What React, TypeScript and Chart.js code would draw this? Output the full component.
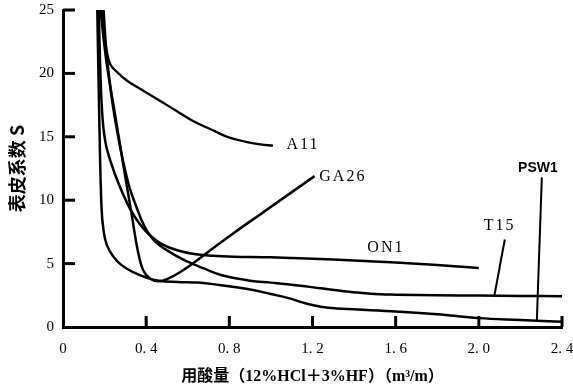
import React, { useEffect, useRef } from 'react';
import { Chart, registerables } from 'chart.js';

Chart.register(...registerables);

// Axis ticks
const xTicks = [0, 0.4, 0.8, 1.2, 1.6, 2.0, 2.4];
const xTickLabels = ['0', '0. 4', '0. 8', '1. 2', '1. 6', '2. 0', '2. 4'];
const yTicks = [0, 5, 10, 15, 20, 25];
const yTickLabels = ['0', '5', '10', '15', '20', '25'];

const xTitle = '用酸量（12%HCl＋3%HF）（m³/m）';
const yTitle = '表皮系数 S';

// Series (x: acid volume m3/m, y: skin factor S)
const a11X = [0.185, 0.195, 0.21, 0.228, 0.26, 0.31, 0.39, 0.47, 0.55, 0.63, 0.71, 0.79, 0.88, 0.95, 1.01];
const a11Y = [25, 23.5, 21.8, 20.7, 20.1, 19.4, 18.6, 17.8, 17.0, 16.2, 15.6, 15.0, 14.6, 14.4, 14.3];

const ga26X = [0.18, 0.21, 0.25, 0.29, 0.33, 0.36, 0.385, 0.42, 0.46, 0.51, 0.57, 0.64, 0.72, 0.82, 0.95, 1.08, 1.21];
const ga26Y = [25, 20.8, 16.8, 12.8, 8.9, 6.0, 4.5, 3.8, 3.6, 3.85, 4.4, 5.2, 6.2, 7.4, 8.9, 10.4, 11.9];

const on1X = [0.172, 0.18, 0.19, 0.205, 0.23, 0.27, 0.32, 0.37, 0.42, 0.48, 0.55, 0.63, 0.72, 0.82, 1.0, 1.2, 1.4, 1.6, 1.8, 2.0];
const on1Y = [25, 20, 16.5, 14.5, 13.0, 11.2, 9.4, 8.1, 7.2, 6.5, 6.05, 5.75, 5.62, 5.55, 5.5, 5.38, 5.25, 5.08, 4.88, 4.65];

const t15X = [0.195, 0.21, 0.235, 0.26, 0.29, 0.32, 0.35, 0.39, 0.44, 0.52, 0.6, 0.68, 0.76, 0.9, 1.0, 1.12, 1.24, 1.36, 1.48, 1.6, 1.8, 2.0, 2.2, 2.41];
const t15Y = [25, 21.5, 18.0, 15.5, 13.0, 11.0, 9.6, 8.0, 6.8, 5.85, 5.15, 4.6, 4.1, 3.65, 3.5, 3.3, 3.05, 2.8, 2.62, 2.55, 2.5, 2.48, 2.45, 2.43];

const psw1X = [0.165, 0.175, 0.185, 0.195, 0.21, 0.24, 0.28, 0.34, 0.4, 0.46, 0.55, 0.65, 0.76, 0.85, 0.92, 1.0, 1.08, 1.16, 1.24, 1.32, 1.4, 1.58, 1.8, 2.0, 2.2, 2.41];
const psw1Y = [25, 16, 9.5, 7.6, 6.5, 5.6, 4.9, 4.3, 3.9, 3.65, 3.55, 3.5, 3.3, 3.1, 2.9, 2.6, 2.3, 1.9, 1.6, 1.45, 1.4, 1.25, 1.0, 0.7, 0.55, 0.4];

// Leader lines for labels
const t15LeaderX = [2.125, 2.075];
const t15LeaderY = [6.9, 2.5];
const psw1LeaderX = [2.303, 2.279];
const psw1LeaderY = [11.8, 0.5];

// Curve labels (data positions)
const labelTexts = ['A11', 'GA26', 'ON1', 'T15', 'PSW1'];
const labelXs = [1.154, 1.346, 1.553, 2.1, 2.284];
const labelYs = [14.35, 11.83, 6.23, 7.97, 12.54];

const toPts = (xs: number[], ys: number[]) => xs.map((x, i) => ({ x, y: ys[i] }));

const inwardTicks = {
  id: 'inwardTicks',
  afterDatasetsDraw(chart: any) {
    const { ctx, chartArea, scales } = chart;
    const xs = scales.x;
    const ys = scales.y;
    ctx.save();
    ctx.strokeStyle = '#000';
    ctx.lineWidth = 3;
    xTicks.forEach((v) => {
      if (v === 0) return;
      const px = xs.getPixelForValue(v);
      ctx.beginPath();
      ctx.moveTo(px, chartArea.bottom);
      ctx.lineTo(px, chartArea.bottom - 11);
      ctx.stroke();
    });
    yTicks.forEach((v) => {
      if (v === 0) return;
      const py = ys.getPixelForValue(v);
      ctx.beginPath();
      ctx.moveTo(chartArea.left, py);
      ctx.lineTo(chartArea.left + 12, py);
      ctx.stroke();
    });
    ctx.restore();
  },
};

const curveLabels = {
  id: 'curveLabels',
  afterDatasetsDraw(chart: any) {
    const { ctx, scales } = chart;
    ctx.save();
    ctx.fillStyle = '#000';
    ctx.textAlign = 'left';
    ctx.textBaseline = 'middle';
    labelTexts.forEach((t, i) => {
      const px = scales.x.getPixelForValue(labelXs[i]);
      const py = scales.y.getPixelForValue(labelYs[i]);
      if (t === 'PSW1') {
        ctx.font = "bold 14px 'Liberation Sans', Arial, sans-serif";
        (ctx as any).letterSpacing = '0px';
      } else {
        ctx.font = "16px 'Liberation Serif', 'Times New Roman', serif";
        (ctx as any).letterSpacing = '2px';
      }
      const w = ctx.measureText(t).width;
      ctx.fillText(t, px - w / 2, py);
    });
    ctx.restore();
  },
};

export default function App() {
  const ref = useRef<HTMLCanvasElement | null>(null);

  useEffect(() => {
    if (!ref.current) return;
    const lineDs = (xs: number[], ys: number[], w = 2.5, tension = 0.4) => ({
      data: toPts(xs, ys),
      showLine: true,
      borderColor: '#000',
      backgroundColor: '#000',
      borderWidth: w,
      pointRadius: 0,
      tension,
      fill: false,
    });
    const chart = new Chart(ref.current, {
      type: 'scatter',
      data: {
        datasets: [
          lineDs(a11X, a11Y, 2.3),
          lineDs(ga26X, ga26Y),
          lineDs(on1X, on1Y),
          lineDs(t15X, t15Y),
          lineDs(psw1X, psw1Y),
          lineDs(t15LeaderX, t15LeaderY, 2, 0),
          lineDs(psw1LeaderX, psw1LeaderY, 2, 0),
        ] as any,
      },
      options: {
        responsive: false,
        maintainAspectRatio: false,
        animation: false,
        layout: { padding: { left: 0, right: 0, top: 0, bottom: 0 } },
        plugins: { legend: { display: false }, tooltip: { enabled: false } },
        scales: {
          x: {
            type: 'linear',
            min: 0,
            max: 2.4,
            afterBuildTicks: (s: any) => {
              s.ticks = xTicks.map((v) => ({ value: v }));
            },
            afterFit: (s: any) => {
              s.height = 60;
              s.paddingRight = 11;
              s.paddingLeft = 0;
            },
            grid: { display: false, drawTicks: false },
            border: { display: true, width: 3, color: '#000' },
            ticks: {
              autoSkip: false,
              maxRotation: 0,
              padding: 13,
              color: '#000',
              font: { family: "'Liberation Serif', serif", size: 15 },
              callback: (v: any) => xTickLabels[xTicks.indexOf(Number(v))],
            },
            title: {
              display: true,
              text: xTitle,
              color: '#000',
              font: { family: "'Liberation Serif', 'Noto Sans CJK SC', serif", size: 16, weight: 'bold' },
              padding: { top: 0, bottom: 1 },
            },
          },
          y: {
            type: 'linear',
            min: 0,
            max: 25,
            afterBuildTicks: (s: any) => {
              s.ticks = yTicks.map((v) => ({ value: v }));
            },
            afterFit: (s: any) => {
              s.width = 63;
              s.paddingTop = 10;
              s.paddingBottom = 0;
            },
            grid: { display: false, drawTicks: false },
            border: { display: true, width: 3, color: '#000' },
            ticks: {
              autoSkip: false,
              padding: 9,
              color: '#000',
              font: { family: "'Liberation Serif', serif", size: 15 },
              callback: (v: any) => yTickLabels[yTicks.indexOf(Number(v))],
            },
            title: {
              display: true,
              text: yTitle,
              color: '#000',
              font: { family: "'Noto Sans CJK SC', 'Liberation Serif', serif", size: 18, weight: 'bold' },
              padding: { top: 6, bottom: 0 },
            },
          },
        },
      } as any,
      plugins: [inwardTicks, curveLabels],
    });
    return () => chart.destroy();
  }, []);

  return (
    <div style={{ position: 'fixed', left: 0, top: 0, width: 573, height: 387, background: '#fff' }}>
      <canvas ref={ref} width={573} height={387} style={{ display: 'block' }} />
    </div>
  );
}
